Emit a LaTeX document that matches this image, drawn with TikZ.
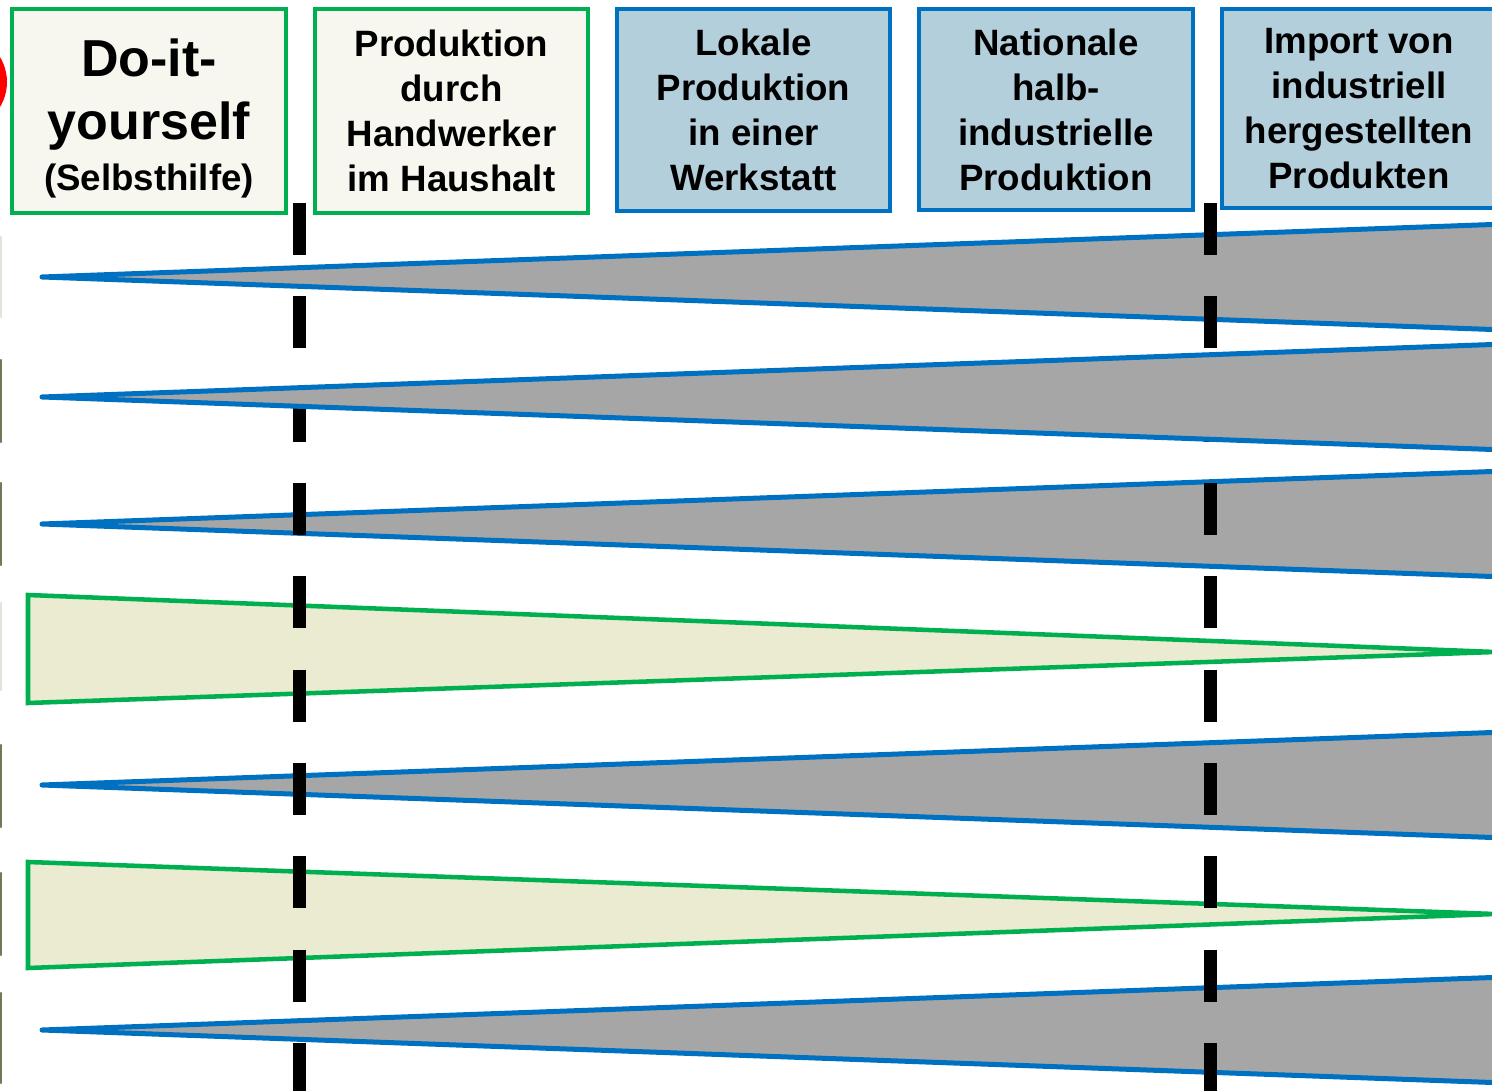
\documentclass[tikz,border=0pt]{standalone}
\usepackage{fontspec}
\setmainfont{Liberation Sans}
\definecolor{cgreen}{HTML}{00B050}
\definecolor{cblue}{HTML}{0070C0}
\definecolor{cgrey}{HTML}{A6A6A6}
\definecolor{ccream}{HTML}{EBEBD1}
\definecolor{cgreenbox}{HTML}{F7F7EF}
\definecolor{cbluebox}{HTML}{B4CFDC}
\definecolor{colive}{HTML}{76765A}
\definecolor{clight}{HTML}{E2E2DA}
\begin{document}
\begin{tikzpicture}[x=0.75pt,y=-0.75pt,
  greenbox/.style={draw=cgreen, fill=cgreenbox, line width=3pt, inner sep=0pt,
    align=center, font=\bfseries\fontsize{27.5}{33.75}\selectfont},
  bluebox/.style={greenbox, draw=cblue, fill=cbluebox},
  greytri/.style={draw=cblue, fill=cgrey, line width=3.75pt, line join=round},
  greentri/.style={draw=cgreen, fill=ccream, line width=3.4pt},
  divider/.style={line width=9.75pt, dash pattern=on 39pt off 31pt},
  edgemark/.style={line width=1.8pt, line cap=round},
]
\useasboundingbox (0,0) rectangle (1492,1091);
\clip (0,0) rectangle (1492,1091);

% cropped remnants at the left edge
\fill[red] (-41,82) circle (36pt);
\draw[edgemark, clight] (0.8,237) -- (0.8,317);
\draw[edgemark, colive] (0.8,360) -- (0.8,442);
\draw[edgemark, colive] (0.8,483) -- (0.8,565);
\draw[edgemark, clight] (0.8,603) -- (0.8,690);
\draw[edgemark, colive] (0.8,745) -- (0.8,827);
\draw[edgemark, colive] (0.8,873) -- (0.8,955);
\draw[edgemark, colive] (0.8,993) -- (0.8,1083);

% header boxes
\node[greenbox, minimum width=205.5pt, minimum height=153pt,
  font=\bfseries\fontsize{39}{47.25}\selectfont] (diy) at (149,111)
  {\rule{0pt}{39.5pt}Do-it-\\yourself\\[-9.5pt]{\fontsize{27.5}{33}\selectfont (Selbsthilfe)}};
\node[greenbox, minimum width=204.75pt, minimum height=153pt] (handwerk) at (451.5,111)
  {Produktion\\durch\\Handwerker\\im Haushalt};
\node[bluebox, minimum width=204.75pt, minimum height=151.5pt] (lokal) at (753.5,110)
  {Lokale\\Produktion\\in einer\\Werkstatt};
\node[bluebox, minimum width=205.5pt, minimum height=150.75pt] (national) at (1056,109.5)
  {Nationale\\halb-\\industrielle\\Produktion};
\node[bluebox, minimum width=205.5pt, minimum height=149.25pt] (import) at (1359,108.5)
  {Import von\\industriell\\hergestellten\\Produkten};

% wedges (lower layer)
\draw[greytri] (42,277) -- (1600,220.6) -- (1600,333.4) -- cycle;
\draw[greytri] (42,524) -- (1600,467.6) -- (1600,580.4) -- cycle;
\draw[greentri] (28,595) -- (28,703) -- (1495,652) -- cycle;
\draw[greytri] (42,785) -- (1600,728.6) -- (1600,841.4) -- cycle;
\draw[greentri] (28,862) -- (28,968) -- (1495,914) -- cycle;
\draw[greytri] (42,1030) -- (1600,973.6) -- (1600,1086.4) -- cycle;

% dashed dividers
\coordinate (d1top) at (299,203);
\coordinate (d1bot) at (299,1100);
\coordinate (d2top) at (1210,203);
\coordinate (d2bot) at (1210,1100);
\draw[divider] (d1top) -- (d1bot);
\draw[divider] (d2top) -- (d2bot);

% wedge above the dividers
\draw[greytri] (42,397) -- (1600,340.6) -- (1600,453.4) -- cycle;
\end{tikzpicture}
\end{document}
